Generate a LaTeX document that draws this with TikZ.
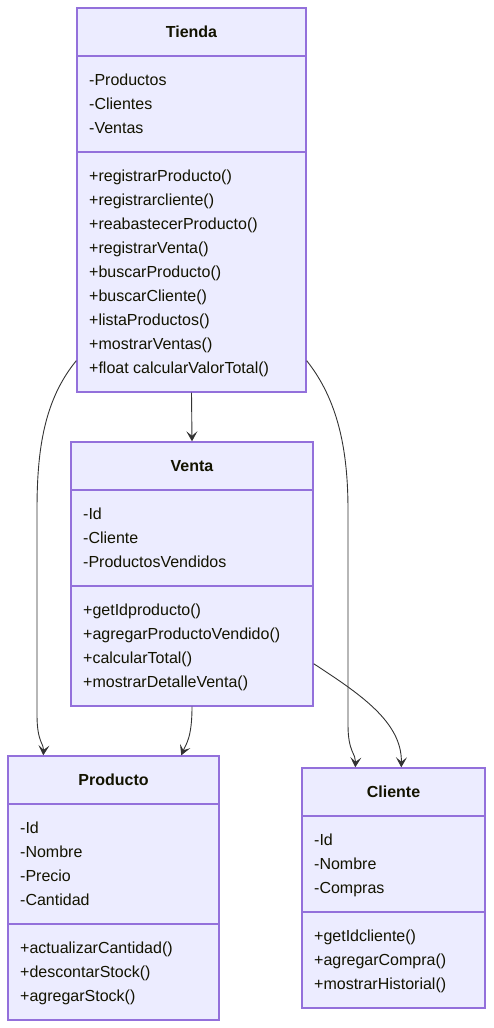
\documentclass[tikz,border=0pt]{standalone}
\usepackage{fontspec}
\setmainfont{Liberation Sans}
\usetikzlibrary{arrows.meta}
\definecolor{classfill}{HTML}{ECECFF}
\definecolor{classline}{HTML}{9370DB}
\definecolor{classtext}{HTML}{131300}
\definecolor{edgeline}{HTML}{333333}
\tikzset{
  classbox/.style={draw=classline, fill=classfill, line width=1.4pt, inner sep=0pt},
  sepline/.style={draw=classline, line width=1.4pt},
  title/.style={font=\bfseries\fontsize{16}{19}\selectfont, text=classtext, anchor=base, inner sep=0pt},
  member/.style={font=\fontsize{16}{19}\selectfont, text=classtext, anchor=base west, inner sep=0pt},
  rel/.style={draw=edgeline, line width=0.9pt, -{Stealth[length=10pt,width=11pt,inset=4.5pt]}}
}
\begin{document}
\begin{tikzpicture}[x=1pt, y=-1pt]
    \useasboundingbox (0,0) rectangle (493,1028);
    % Tienda
    \node[classbox, minimum width=229pt, minimum height=384pt] (tienda) at (191.5,200) {};
    \draw[sepline] (tienda.west |- 0,56) -- (tienda.east |- 0,56);
    \draw[sepline] (tienda.west |- 0,152) -- (tienda.east |- 0,152);
    \node[title] (tienda-t) at (191.5,37.5) {Tienda};
    \node[member] (tienda-a1) at (89,85.5) {-Productos};
    \node[member] (tienda-a2) at (89,109.5) {-Clientes};
    \node[member] (tienda-a3) at (89,133.5) {-Ventas};
    \node[member] (tienda-m1) at (89,181.5) {+registrarProducto()};
    \node[member] (tienda-m2) at (89,205.5) {+registrarcliente()};
    \node[member] (tienda-m3) at (89,229.5) {+reabastecerProducto()};
    \node[member] (tienda-m4) at (89,253.5) {+registrarVenta()};
    \node[member] (tienda-m5) at (89,277.5) {+buscarProducto()};
    \node[member] (tienda-m6) at (89,301.5) {+buscarCliente()};
    \node[member] (tienda-m7) at (89,325.5) {+listaProductos()};
    \node[member] (tienda-m8) at (89,349.5) {+mostrarVentas()};
    \node[member] (tienda-m9) at (89,373.5) {+float calcularValorTotal()};
    % Venta
    \node[classbox, minimum width=242pt, minimum height=264pt] (venta) at (192,574) {};
    \draw[sepline] (venta.west |- 0,490) -- (venta.east |- 0,490);
    \draw[sepline] (venta.west |- 0,586) -- (venta.east |- 0,586);
    \node[title] (venta-t) at (192,471.5) {Venta};
    \node[member] (venta-a1) at (83,519.5) {-Id};
    \node[member] (venta-a2) at (83,543.5) {-Cliente};
    \node[member] (venta-a3) at (83,567.5) {-ProductosVendidos};
    \node[member] (venta-m1) at (83,615.5) {+getIdproducto()};
    \node[member] (venta-m2) at (83,639.5) {+agregarProductoVendido()};
    \node[member] (venta-m3) at (83,663.5) {+calcularTotal()};
    \node[member] (venta-m4) at (83,687.5) {+mostrarDetalleVenta()};
    % Producto
    \node[classbox, minimum width=211pt, minimum height=264pt] (producto) at (113.5,888) {};
    \draw[sepline] (producto.west |- 0,804) -- (producto.east |- 0,804);
    \draw[sepline] (producto.west |- 0,924) -- (producto.east |- 0,924);
    \node[title] (producto-t) at (113.5,785.5) {Producto};
    \node[member] (producto-a1) at (20,833.5) {-Id};
    \node[member] (producto-a2) at (20,857.5) {-Nombre};
    \node[member] (producto-a3) at (20,881.5) {-Precio};
    \node[member] (producto-a4) at (20,905.5) {-Cantidad};
    \node[member] (producto-m1) at (20,953.5) {+actualizarCantidad()};
    \node[member] (producto-m2) at (20,977.5) {+descontarStock()};
    \node[member] (producto-m3) at (20,1001.5) {+agregarStock()};
    % Cliente
    \node[classbox, minimum width=183pt, minimum height=240pt] (cliente) at (393.5,888) {};
    \draw[sepline] (cliente.west |- 0,816) -- (cliente.east |- 0,816);
    \draw[sepline] (cliente.west |- 0,912) -- (cliente.east |- 0,912);
    \node[title] (cliente-t) at (393.5,797.5) {Cliente};
    \node[member] (cliente-a1) at (314,845.5) {-Id};
    \node[member] (cliente-a2) at (314,869.5) {-Nombre};
    \node[member] (cliente-a3) at (314,893.5) {-Compras};
    \node[member] (cliente-m1) at (314,941.5) {+getIdcliente()};
    \node[member] (cliente-m2) at (314,965.5) {+agregarCompra()};
    \node[member] (cliente-m3) at (314,989.5) {+mostrarHistorial()};
    % relaciones
    \draw[rel] (tienda.south) -- (venta.north);
    \draw[rel] ([yshift=32pt]tienda.south west) .. controls (44,400) and (37,450) .. (37,510)
        -- (37,715) .. controls (37,742) and (44,744) .. ([xshift=36pt]producto.north west);
    \draw[rel] ([yshift=32pt]tienda.south east) .. controls (338,400) and (348,450) .. (348,510)
        -- (348,725) .. controls (348,752) and (356,754) .. ([xshift=54pt]cliente.north west);
    \draw[rel] (venta.south) .. controls (192,738) and (186,744) .. ([xshift=174pt]producto.north west);
    \draw[rel] ([yshift=43pt]venta.south east) .. controls (360,694) and (402,722) .. ([xshift=100pt]cliente.north west);
\end{tikzpicture}
\end{document}
